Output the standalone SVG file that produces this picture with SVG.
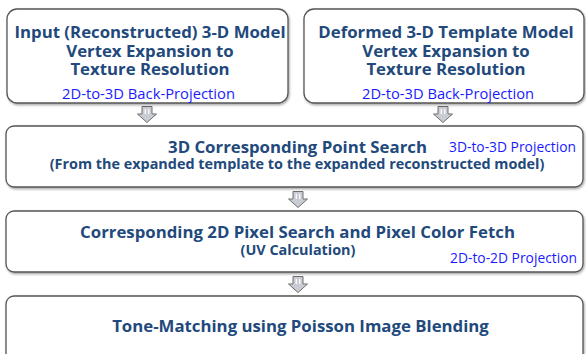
<svg xmlns="http://www.w3.org/2000/svg" width="586" height="354" viewBox="0 0 586 354">
<defs>
<style>
.box{fill:#fff;stroke:#555;stroke-width:1.3;filter:url(#sh)}
.t{font-family:"Open Sans","Liberation Sans",sans-serif;font-weight:bold;fill:#22497c;text-anchor:middle}
.m{font-size:16.8px}
.s{font-size:14.4px}
.b{font-family:"Open Sans","Liberation Sans",sans-serif;fill:#1a1aff;font-size:14px}
.arr{fill:#c9ccd2;stroke:#6e6e6e;stroke-width:1}
</style>
<filter id="sh" x="-5%" y="-10%" width="110%" height="130%">
<feDropShadow dx="1" dy="1.5" stdDeviation="1.2" flood-color="#000" flood-opacity="0.35"/>
</filter>
<symbol id="ar" viewBox="0 0 20 17" overflow="visible">
<path class="arr" d="M5,0.5 H15 V8 H19.5 L10,16.5 L0.5,8 H5 Z"/>
<path d="M8.3,3 V8 M11.7,3 V8" stroke="#fff" stroke-width="1.2"/>
</symbol>
</defs>
<rect width="586" height="354" fill="#fff"/>
<g id="connectors">
<use href="#ar" x="137" y="106" width="20" height="17"/>
<use href="#ar" x="433" y="106" width="20" height="17"/>
<use href="#ar" x="288" y="191" width="20" height="17"/>
<use href="#ar" x="288" y="276" width="20" height="17"/>
</g>
<g id="n1">
<rect class="box" x="7" y="9" width="281" height="94" rx="10"/>
<text class="t m" x="150" y="38">Input (Reconstructed) 3-D Model</text>
<text class="t m" x="150" y="56.5">Vertex Expansion to</text>
<text class="t m" x="150" y="75">Texture Resolution</text>
<text class="b" x="62" y="98.5" textLength="173" lengthAdjust="spacingAndGlyphs">2D-to-3D Back-Projection</text>
</g>
<g id="n2">
<rect class="box" x="304" y="9" width="280" height="94" rx="10"/>
<text class="t m" x="446" y="38">Deformed 3-D Template Model</text>
<text class="t m" x="446" y="56.5">Vertex Expansion to</text>
<text class="t m" x="446" y="75">Texture Resolution</text>
<text class="b" x="362" y="98.5" textLength="172" lengthAdjust="spacingAndGlyphs">2D-to-3D Back-Projection</text>
</g>
<g id="n3">
<rect class="box" x="6" y="126" width="577" height="61" rx="8"/>
<text class="t m" x="297.5" y="153">3D Corresponding Point Search</text>
<text class="t s" x="297" y="169">(From the expanded template to the expanded reconstructed model)</text>
<text class="b" x="449" y="152" textLength="127" lengthAdjust="spacingAndGlyphs">3D-to-3D Projection</text>
</g>
<g id="n4">
<rect class="box" x="6" y="211" width="577" height="61" rx="8"/>
<text class="t m" x="297.5" y="238">Corresponding 2D Pixel Search and Pixel Color Fetch</text>
<text class="t s" x="298" y="255">(UV Calculation)</text>
<text class="b" x="450" y="262.5" textLength="127" lengthAdjust="spacingAndGlyphs">2D-to-2D Projection</text>
</g>
<g id="n5">
<rect class="box" x="6" y="296" width="577" height="70" rx="8"/>
<text class="t m" x="300.5" y="332">Tone-Matching using Poisson Image Blending</text>
</g>
</svg>
